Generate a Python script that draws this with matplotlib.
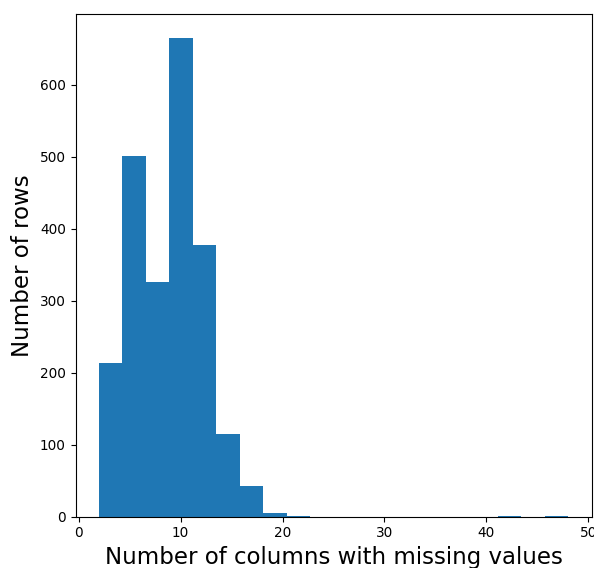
import numpy as np
import matplotlib
matplotlib.use("Agg")
import matplotlib.pyplot as plt

# Histogram of how many columns are missing per row (20 bins spanning 2..48)
bin_start = 2.0
bin_stop = 48.0
n_bins = 20
counts = [213, 501, 326, 665, 377, 115, 42, 5, 1, 0,
          0, 0, 0, 0, 0, 0, 0, 1, 0, 1]

edges = np.linspace(bin_start, bin_stop, n_bins + 1)

W, H = 594, 568
fig = plt.figure(figsize=(W / 100, H / 100), dpi=100)
left, right, top, bottom = 75.5, 591.5, 14.0, 516.7
ax = fig.add_axes([left / W, 1 - bottom / H, (right - left) / W, (bottom - top) / H])

ax.hist(edges[:-1], bins=edges, weights=counts, color="#1f77b4")

ax.set_xticks([0, 10, 20, 30, 40, 50])
ax.set_yticks([0, 100, 200, 300, 400, 500, 600])
ax.tick_params(labelsize=9.8)

ax.set_xlabel("Number of columns with missing values", fontsize=16.5)
ax.set_ylabel("Number of rows", fontsize=16.5)

fig.savefig("out.png", dpi=100)
